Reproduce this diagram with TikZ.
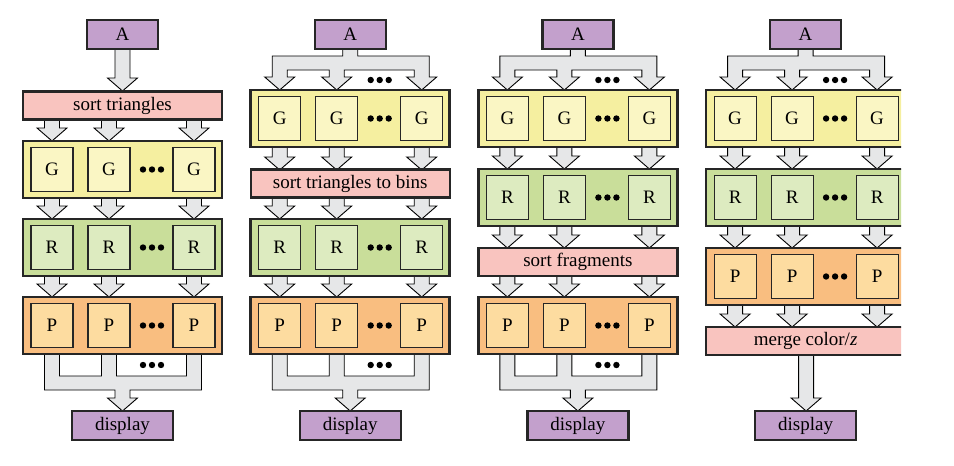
\documentclass[tikz,border=0pt]{standalone}
\usepackage{fontspec}
\setmainfont{Liberation Serif}
\definecolor{cA}{HTML}{C3A0CC}
\definecolor{cPk}{HTML}{F9C4BF}
\definecolor{cY}{HTML}{F5EFA0}
\definecolor{cYi}{HTML}{FAF6C4}
\definecolor{cG}{HTML}{C9DE9A}
\definecolor{cGi}{HTML}{DDEBC0}
\definecolor{cO}{HTML}{F9BE80}
\definecolor{cOi}{HTML}{FDDCA0}
\definecolor{cAr}{HTML}{E6E7E8}
\tikzset{x=1pt,y=-1pt,
  every node/.style={font=\fontsize{19}{20}\selectfont},
  stage/.style={draw=black!85,line width=2.6pt,minimum width=199pt,minimum height=57pt,inner sep=0pt},
  inner/.style={draw=black!85,line width=1.2pt,minimum width=42pt,minimum height=44pt,inner sep=0pt},
  pbar/.style={draw=black!85,fill=cPk,line width=2.2pt,minimum width=199pt,minimum height=28pt,inner sep=0pt},
  term/.style={draw=black!85,fill=cA,line width=2.2pt,minimum height=29pt,inner sep=0pt},
  fat/.style={draw=black,fill=cAr,line width=0.9pt,line join=miter}}
\newcommand\stg[6]{%
  \node[stage,fill=#5] (#1) at (#2+122.5,#3+28.5) {};
  \node[inner,fill=#6] (#1a) at (#2+52,#3+28.5) {#4};
  \node[inner,fill=#6] (#1b) at (#2+109,#3+28.5) {#4};
  \node[inner,fill=#6] (#1c) at (#2+194,#3+28.5) {#4};
  \foreach \i in {-9,0,9} \fill (#2+152+\i,#3+28.5) circle (3.2);}
\newcommand\arr[3]{%
  \draw[fat] (#1-7.5,#2) -- (#1-7.5,#3-13) -- (#1-15,#3-13) -- (#1,#3) -- (#1+15,#3-13) -- (#1+7.5,#3-13) -- (#1+7.5,#2) -- cycle;}
\newcommand\arrs[3]{\arr{#1+52}{#2}{#3}\arr{#1+109}{#2}{#3}\arr{#1+194}{#2}{#3}}
\newcommand\fanout[1]{%
  \draw[fat] (#1+115,49) -- (#1+115,56) -- (#1+44.5,56) -- (#1+44.5,77) -- (#1+37,77) -- (#1+52,90) -- (#1+67,77) -- (#1+59.5,77) -- (#1+59.5,70)
   -- (#1+101.5,70) -- (#1+101.5,77) -- (#1+94,77) -- (#1+109,90) -- (#1+124,77) -- (#1+116.5,77) -- (#1+116.5,70)
   -- (#1+186.5,70) -- (#1+186.5,77) -- (#1+179,77) -- (#1+194,90) -- (#1+209,77) -- (#1+201.5,77) -- (#1+201.5,56)
   -- (#1+130,56) -- (#1+130,49) -- cycle;
  \foreach \i in {-9,0,9} \fill (#1+152+\i,80) circle (3.2);}
\newcommand\fanin[1]{%
  \draw[fat] (#1+44.5,354) -- (#1+44.5,390) -- (#1+115,390) -- (#1+115,398) -- (#1+107.5,398) -- (#1+122.5,411) -- (#1+137.5,398) -- (#1+130,398) -- (#1+130,390)
   -- (#1+201.5,390) -- (#1+201.5,354) -- (#1+186.5,354) -- (#1+186.5,376) -- (#1+116.5,376) -- (#1+116.5,354) -- (#1+101.5,354) -- (#1+101.5,376)
   -- (#1+59.5,376) -- (#1+59.5,354) -- cycle;
  \foreach \i in {-9,0,9} \fill (#1+152+\i,365) circle (3.2);}
\begin{document}
\begin{tikzpicture}
\useasboundingbox (0,0) rectangle (954,466);
% column 1
\arr{122.5}{49}{91}
\arrs{0}{120}{141}\arrs{0}{198}{219}\arrs{0}{276}{297}
\fanin{0}
\node[term,minimum width=71pt] (a1) at (122.5,34.5) {A};
\node[pbar] (s1) at (122.5,105.5) {sort triangles};
\stg{g1}{0}{141}{G}{cY}{cYi}
\stg{r1}{0}{219}{R}{cG}{cGi}
\stg{p1}{0}{297}{P}{cO}{cOi}
\node[term,minimum width=101pt] (d1) at (122.5,425.5) {display};
% column 2
\def\dx{227.7}
\fanout{\dx}
\arrs{\dx}{147}{170}\arrs{\dx}{197}{219}\arrs{\dx}{276}{297}
\fanin{\dx}
\node[term,minimum width=71pt] (a2) at (\dx+122.5,34.5) {A};
\stg{g2}{\dx}{90}{G}{cY}{cYi}
\node[pbar] (s2) at (\dx+122.5,183.5) {sort triangles to bins};
\stg{r2}{\dx}{219}{R}{cG}{cGi}
\stg{p2}{\dx}{297}{P}{cO}{cOi}
\node[term,minimum width=101pt] (d2) at (\dx+122.5,425.5) {display};
% column 3
\def\dx{455.4}
\fanout{\dx}
\arrs{\dx}{147}{169}\arrs{\dx}{226}{248}\arrs{\dx}{276}{297}
\fanin{\dx}
\node[term,minimum width=71pt] (a3) at (\dx+122.5,34.5) {A};
\stg{g3}{\dx}{90}{G}{cY}{cYi}
\stg{r3}{\dx}{169}{R}{cG}{cGi}
\node[pbar] (s3) at (\dx+122.5,262) {sort fragments};
\stg{p3}{\dx}{297}{P}{cO}{cOi}
\node[term,minimum width=101pt] (d3) at (\dx+122.5,425.5) {display};
% column 4
\def\dx{683.1}
\begin{scope}
\clip (0,0) rectangle (901,466);
\fanout{\dx}
\arrs{\dx}{147}{169}\arrs{\dx}{226}{248}\arrs{\dx}{305}{327}
\arr{\dx+123}{355}{411}
\node[term,minimum width=71pt] (a4) at (\dx+122.5,34.5) {A};
\stg{g4}{\dx}{90}{G}{cY}{cYi}
\stg{r4}{\dx}{169}{R}{cG}{cGi}
\stg{p4}{\dx}{248}{P}{cO}{cOi}
\node[pbar] (s4) at (\dx+122.5,341) {merge color/\textit{z}};
\node[term,minimum width=101pt] (d4) at (\dx+122.5,425.5) {display};
\end{scope}
\end{tikzpicture}
\end{document}
